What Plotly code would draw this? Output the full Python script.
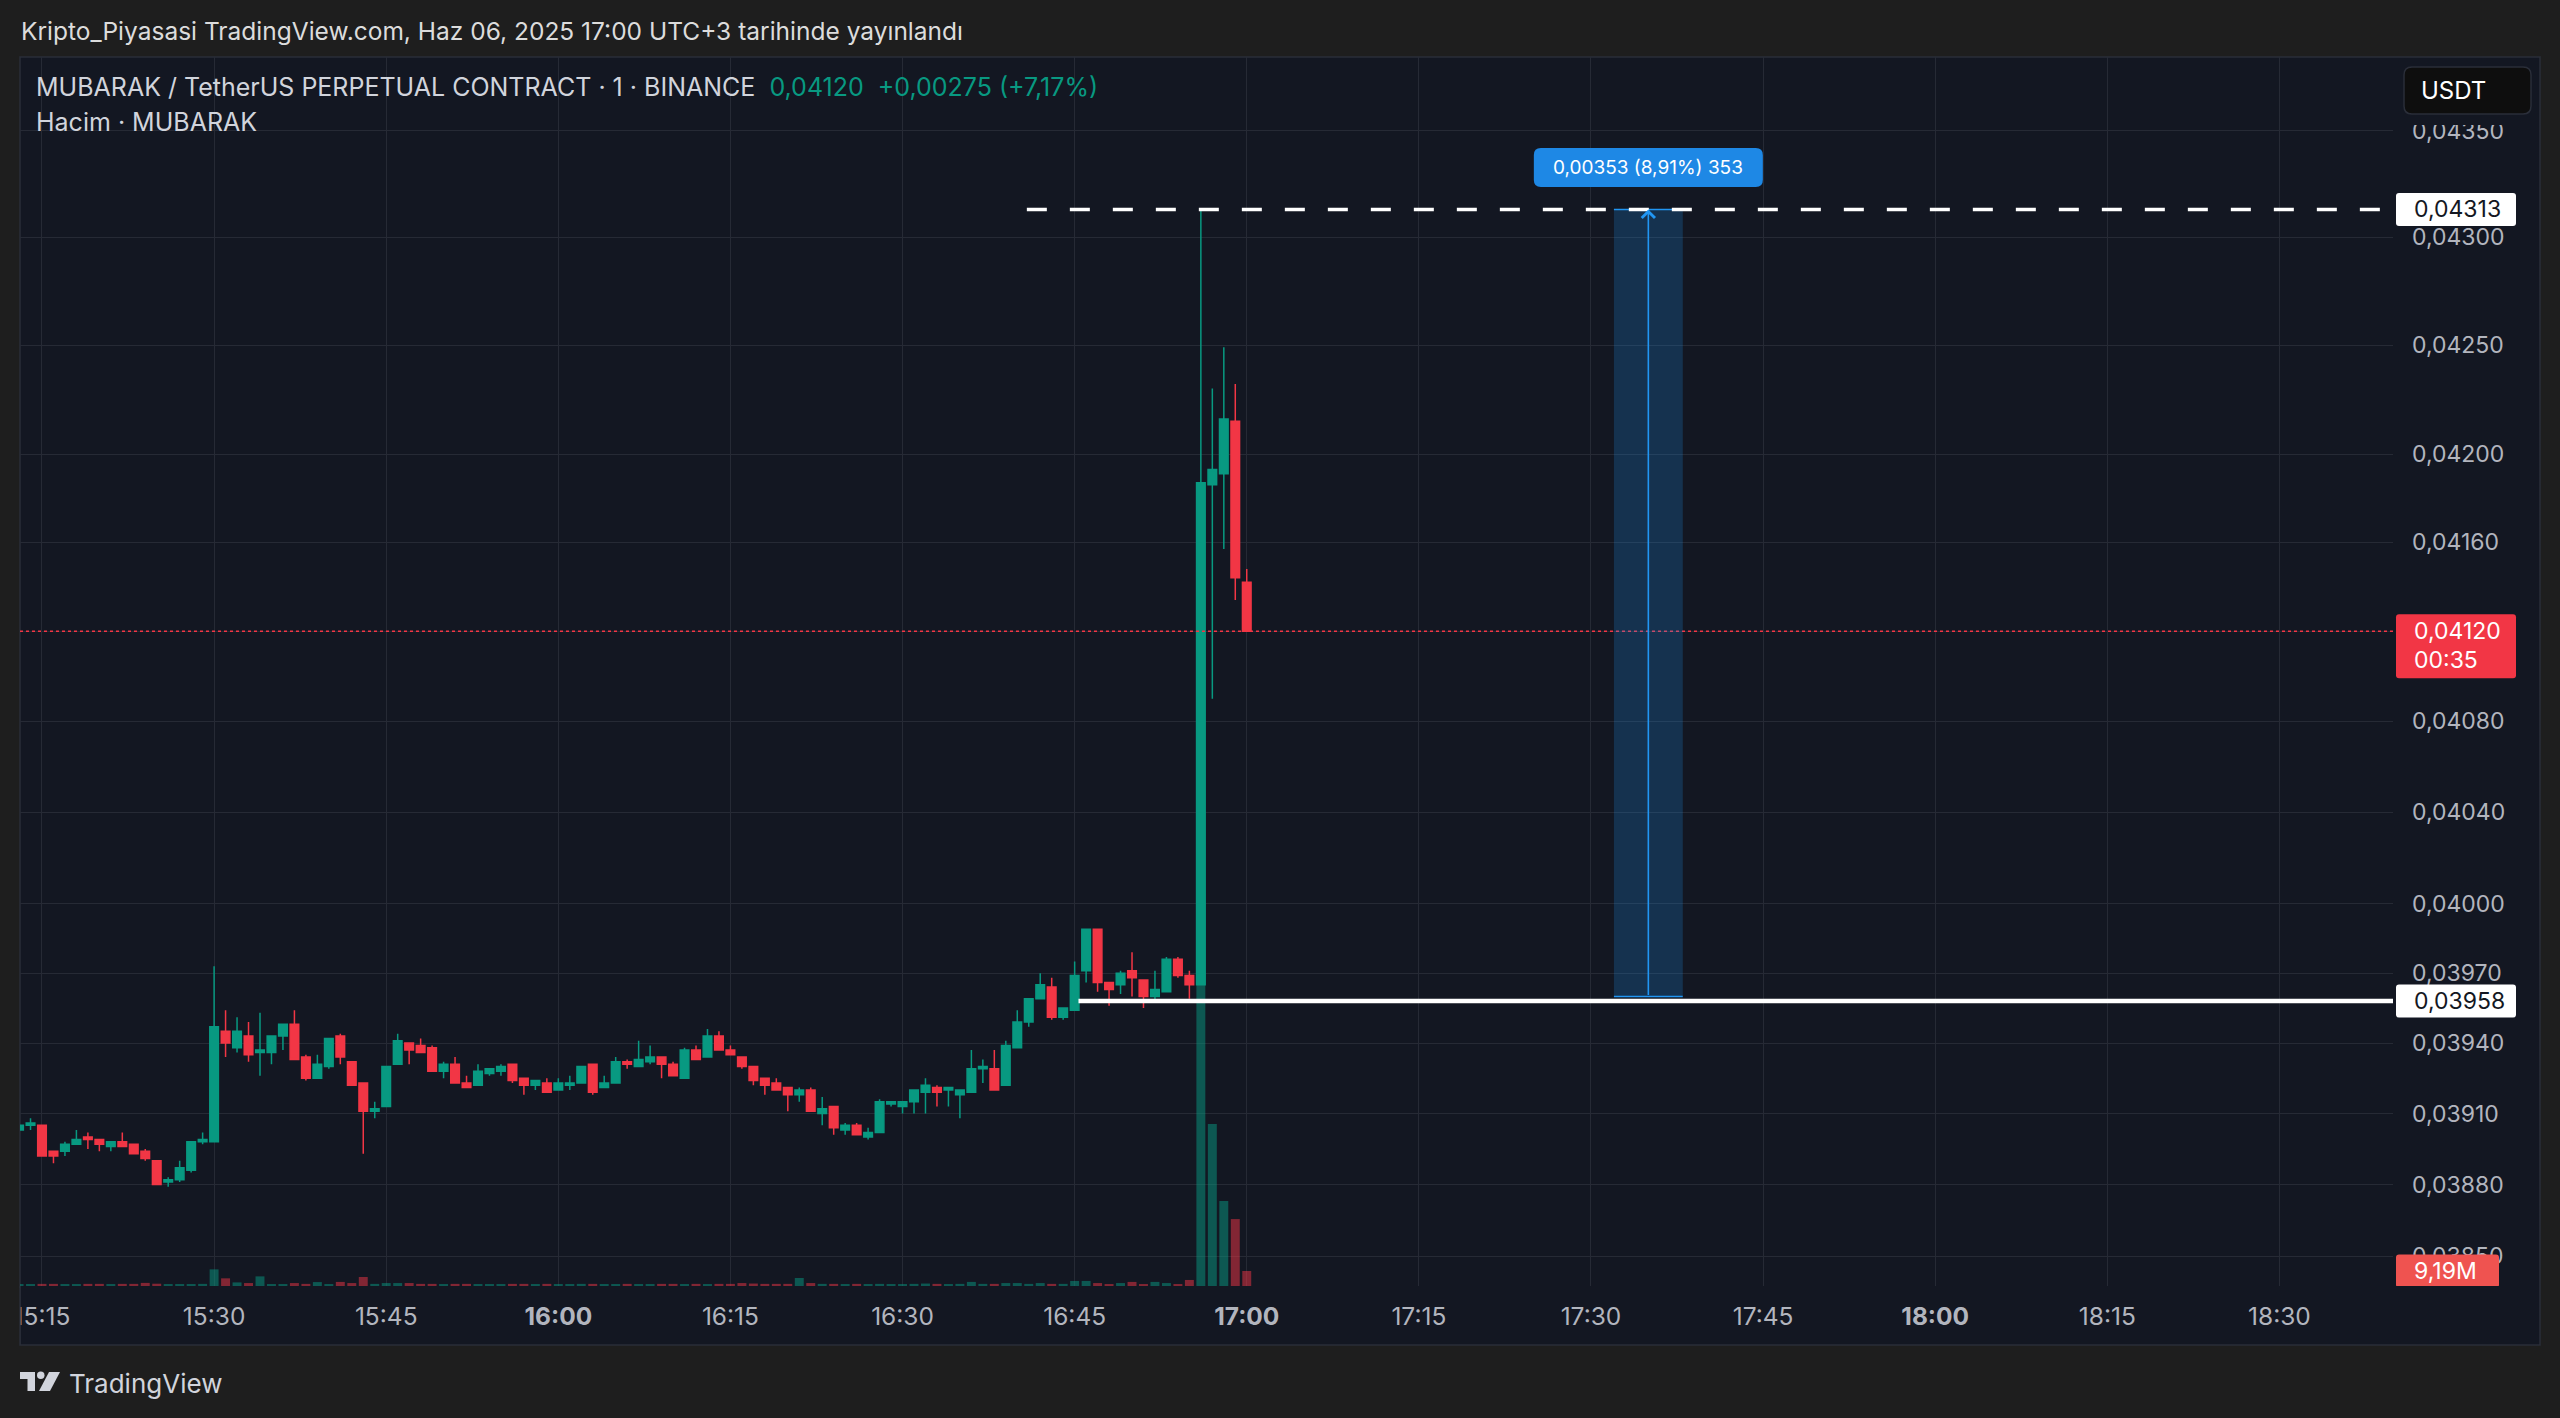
import math
import pandas as pd
import plotly.graph_objects as go

# ---------------- data (1-minute candles, MUBARAK/USDT perpetual) ----------------
START = "2025-06-06 15:13"

open_ = [0.03903, 0.03905, 0.03905, 0.03894, 0.03894, 0.03897, 0.03900,
         0.03899, 0.03896, 0.03898, 0.03897, 0.03894, 0.03890, 0.03881, 0.03882, 0.03886, 0.03898,
         0.03898, 0.03945, 0.03938, 0.03943, 0.03936, 0.03936, 0.03943, 0.03948, 0.03934, 0.03925,
         0.03930, 0.03943, 0.03932, 0.03923, 0.03911, 0.03913, 0.03931, 0.03940, 0.03939, 0.03938,
         0.03928, 0.03931, 0.03923, 0.03922, 0.03927, 0.03928, 0.03931, 0.03925, 0.03922, 0.03923,
         0.03920, 0.03922, 0.03923, 0.03931, 0.03921, 0.03923, 0.03932, 0.03930, 0.03932, 0.03934,
         0.03931, 0.03925, 0.03937, 0.03934, 0.03943, 0.03937, 0.03934, 0.03930, 0.03925, 0.03923,
         0.03921, 0.03918, 0.03920, 0.03910, 0.03913, 0.03903, 0.03905, 0.03900, 0.03902, 0.03914,
         0.03913, 0.03915, 0.03919, 0.03921, 0.03920, 0.03918, 0.03919, 0.03929, 0.03929, 0.03922,
         0.03938, 0.03949, 0.03959, 0.03964, 0.03951, 0.03954, 0.03971, 0.03989, 0.03966, 0.03965,
         0.03971, 0.03967, 0.03960, 0.03962, 0.03976, 0.03969, 0.03965, 0.04186, 0.04191, 0.04215,
         0.04142]
high = [0.03907, 0.03908, 0.03905, 0.03894, 0.03898, 0.03903, 0.03902,
        0.03899, 0.03898, 0.03902, 0.03897, 0.03895, 0.03890, 0.03883, 0.03890, 0.03898, 0.03902,
        0.03973, 0.03954, 0.03951, 0.03949, 0.03953, 0.03943, 0.03948, 0.03954, 0.03935, 0.03935,
        0.03942, 0.03944, 0.03932, 0.03923, 0.03915, 0.03930, 0.03944, 0.03940, 0.03942, 0.03939,
        0.03932, 0.03934, 0.03926, 0.03931, 0.03929, 0.03931, 0.03931, 0.03925, 0.03924, 0.03925,
        0.03925, 0.03926, 0.03930, 0.03931, 0.03926, 0.03934, 0.03933, 0.03941, 0.03939, 0.03934,
        0.03932, 0.03938, 0.03939, 0.03946, 0.03945, 0.03939, 0.03934, 0.03930, 0.03925, 0.03925,
        0.03921, 0.03921, 0.03921, 0.03917, 0.03913, 0.03906, 0.03906, 0.03904, 0.03916, 0.03915,
        0.03915, 0.03920, 0.03925, 0.03922, 0.03921, 0.03920, 0.03937, 0.03933, 0.03937, 0.03941,
        0.03954, 0.03959, 0.03970, 0.03968, 0.03955, 0.03975, 0.03989, 0.03989, 0.03966, 0.03971,
        0.03979, 0.03967, 0.03971, 0.03977, 0.03977, 0.03971, 0.04313, 0.04230, 0.04249, 0.04232,
        0.04148]
low = [0.03902, 0.03903, 0.03892, 0.03889, 0.03892, 0.03897, 0.03895,
       0.03894, 0.03894, 0.03896, 0.03893, 0.03890, 0.03880, 0.03879, 0.03881, 0.03885, 0.03897,
       0.03898, 0.03934, 0.03936, 0.03932, 0.03926, 0.03931, 0.03937, 0.03933, 0.03924, 0.03925,
       0.03929, 0.03931, 0.03922, 0.03893, 0.03908, 0.03913, 0.03931, 0.03931, 0.03936, 0.03928,
       0.03925, 0.03923, 0.03921, 0.03922, 0.03926, 0.03926, 0.03923, 0.03918, 0.03920, 0.03919,
       0.03920, 0.03920, 0.03923, 0.03918, 0.03921, 0.03923, 0.03929, 0.03930, 0.03931, 0.03925,
       0.03926, 0.03925, 0.03933, 0.03934, 0.03937, 0.03935, 0.03929, 0.03922, 0.03918, 0.03920,
       0.03911, 0.03915, 0.03911, 0.03905, 0.03901, 0.03901, 0.03901, 0.03899, 0.03902, 0.03913,
       0.03910, 0.03910, 0.03910, 0.03913, 0.03913, 0.03908, 0.03919, 0.03923, 0.03920, 0.03922,
       0.03938, 0.03947, 0.03959, 0.03950, 0.03950, 0.03954, 0.03966, 0.03962, 0.03956, 0.03961,
       0.03960, 0.03955, 0.03958, 0.03962, 0.03968, 0.03959, 0.03965, 0.04090, 0.04157, 0.04134,
       0.04120]
close = [0.03905, 0.03906, 0.03892, 0.03892, 0.03897, 0.03899, 0.03899,
         0.03897, 0.03898, 0.03896, 0.03893, 0.03891, 0.03880, 0.03882, 0.03887, 0.03898, 0.03899,
         0.03947, 0.03940, 0.03945, 0.03935, 0.03937, 0.03943, 0.03948, 0.03933, 0.03925, 0.03931,
         0.03942, 0.03934, 0.03922, 0.03911, 0.03912, 0.03930, 0.03941, 0.03937, 0.03936, 0.03928,
         0.03931, 0.03923, 0.03921, 0.03928, 0.03929, 0.03930, 0.03924, 0.03922, 0.03924, 0.03919,
         0.03923, 0.03923, 0.03930, 0.03919, 0.03923, 0.03932, 0.03931, 0.03933, 0.03934, 0.03931,
         0.03926, 0.03937, 0.03933, 0.03943, 0.03937, 0.03935, 0.03930, 0.03924, 0.03922, 0.03920,
         0.03918, 0.03920, 0.03911, 0.03912, 0.03904, 0.03905, 0.03901, 0.03902, 0.03915, 0.03915,
         0.03915, 0.03920, 0.03922, 0.03919, 0.03921, 0.03920, 0.03929, 0.03930, 0.03920, 0.03939,
         0.03949, 0.03959, 0.03965, 0.03951, 0.03955, 0.03969, 0.03989, 0.03966, 0.03963, 0.03970,
         0.03968, 0.03960, 0.03963, 0.03976, 0.03969, 0.03965, 0.04187, 0.04193, 0.04216, 0.04144,
         0.04120]
volume_m = [1.2, 1.2, 1.3, 1.3, 1.2, 1.2, 1.3,
            1.3, 1.2, 1.3, 1.3, 1.9, 1.4, 1.2, 1.2, 1.2, 1.3,
            10.2, 4.7, 2.2, 1.8, 5.9, 1.2, 1.2, 1.8, 1.3, 2.4,
            1.2, 2.5, 1.8, 5.5, 1.3, 1.8, 1.8, 1.8, 1.3, 1.3,
            1.2, 1.3, 1.3, 1.2, 1.2, 1.2, 1.3, 1.3, 1.2, 1.3,
            1.2, 1.2, 1.3, 1.3, 1.2, 1.2, 1.3, 1.2, 1.2, 1.3,
            1.3, 1.2, 1.3, 1.2, 1.3, 1.3, 1.8, 1.5, 1.3, 1.3,
            1.3, 4.9, 1.8, 1.3, 1.3, 1.2, 1.3, 1.2, 1.3, 1.2,
            1.2, 1.3, 1.5, 1.3, 1.2, 1.3, 2.5, 1.3, 1.3, 1.8,
            1.8, 1.3, 1.8, 1.3, 1.3, 3.1, 3.1, 1.8, 1.2, 1.8,
            2.5, 1.2, 2.5, 1.8, 1.2, 3.7, 240.0, 99.3, 52.1, 41.0,
            9.19]

price_ticks = [0.0385, 0.0388, 0.0391, 0.0394, 0.0397, 0.0400, 0.0404, 0.0408,
               0.0412, 0.0416, 0.0420, 0.0425, 0.0430, 0.0435]
time_tick_labels = ["15:15", "15:30", "15:45", "16:00", "16:15", "16:30", "16:45",
                    "17:00", "17:15", "17:30", "17:45", "18:00", "18:15", "18:30"]
DAY = "2025-06-06"
X_RANGE = ["2025-06-06 15:13:05", "2025-06-06 18:39:54"]
PRICE_RANGE = [0.038375, 0.043849]
VOLUME_MAX = 753.0

# drawings
hi_level = 0.04313
hi_start = "2025-06-06 16:40:50"
support_level = 0.03958
support_start = "2025-06-06 16:45:20"
last_price = 0.04120
countdown = "00:35"
measure_start, measure_end, measure_mid = "2025-06-06 17:32", "2025-06-06 17:38", "2025-06-06 17:35"
measure_low, measure_high = 0.03960, 0.04313

header = "Kripto_Piyasasi TradingView.com, Haz 06, 2025 17:00 UTC+3 tarihinde yayınlandı"
symbol_text = "MUBARAK / TetherUS PERPETUAL CONTRACT · 1 · BINANCE"
change_text = "+0,00275 (+7,17%)"
volume_text = "Hacim · MUBARAK"

# ---------------- styling ----------------
W, H = 2560, 1418
PL, PR, PT, PB = 20, 2393, 57, 1286
OUTER = "#1e1e1e"
PANE = "#131722"
GRID = "#262a35"
UP, DN = "#089981", "#F23645"
AX = "#b2b5be"
TXT = "#d1d4dc"
FONT = "Inter"


def fx(px):
    return (px - PL) / (PR - PL)


def fy(py):
    return (PB - py) / (PB - PT)


def fmt(v, d=5):
    return f"{v:.{d}f}".replace(".", ",")


def rrect(x0, y0, x1, y1, r):
    return (f"M{x0 + r},{y0} L{x1 - r},{y0} Q{x1},{y0} {x1},{y0 + r} L{x1},{y1 - r} "
            f"Q{x1},{y1} {x1 - r},{y1} L{x0 + r},{y1} Q{x0},{y1} {x0},{y1 - r} "
            f"L{x0},{y0 + r} Q{x0},{y0} {x0 + r},{y0} Z")


times = pd.date_range(START, periods=len(open_), freq="min")
vol_colors = ["rgba(8,153,129,0.5)" if c >= o else "rgba(242,54,69,0.5)"
              for o, c in zip(open_, close)]

fig = go.Figure()
fig.add_trace(go.Bar(x=times, y=volume_m, marker=dict(color=vol_colors, line=dict(width=0)),
                     yaxis="y", hoverinfo="skip", showlegend=False))
fig.add_trace(go.Candlestick(
    x=times, open=open_, high=high, low=low, close=close, yaxis="y2",
    increasing=dict(line=dict(color=UP, width=1.5), fillcolor=UP),
    decreasing=dict(line=dict(color=DN, width=1.5), fillcolor=DN),
    whiskerwidth=0, showlegend=False, hoverinfo="skip"))

shapes = []
# pane background
shapes.append(dict(type="rect", xref="paper", yref="paper", x0=fx(20), x1=fx(2540),
                   y0=fy(1345), y1=fy(57), fillcolor=PANE, line=dict(color="#2a2e39", width=1.5),
                   layer="below"))
# current price dotted line
shapes.append(dict(type="line", xref="paper", x0=0, x1=1, yref="y2", y0=last_price, y1=last_price,
                   line=dict(color=DN, width=1.5, dash="dot"), layer="above"))
# measurement box
shapes.append(dict(type="rect", xref="x", yref="y2", x0=measure_start, x1=measure_end,
                   y0=measure_low, y1=measure_high, fillcolor="rgba(33,150,243,0.22)",
                   line=dict(width=0), layer="above"))
for lvl in (measure_low, measure_high):
    shapes.append(dict(type="line", xref="x", yref="y2", x0=measure_start, x1=measure_end,
                       y0=lvl, y1=lvl, line=dict(color="#2196f3", width=1.5), layer="above"))
# horizontal drawings
shapes.append(dict(type="line", xref="x", yref="y2", x0=hi_start, x1=X_RANGE[1], y0=hi_level,
                   y1=hi_level, line=dict(color="#ffffff", width=3.5, dash="20px,23px"),
                   layer="above"))
shapes.append(dict(type="line", xref="x", yref="y2", x0=support_start, x1=X_RANGE[1],
                   y0=support_level, y1=support_level, line=dict(color="#ffffff", width=4.5),
                   layer="above"))
# measurement label box
shapes.append(dict(type="path", xref="x", yref="y2", xsizemode="pixel", ysizemode="pixel",
                   xanchor=measure_mid, yanchor=measure_high,
                   path=rrect(-114.5, 22.5, 114.5, 61.5, 7), fillcolor="#1e88e5",
                   line=dict(width=0), layer="above"))
# right-axis price labels
for lvl in (hi_level, support_level):
    shapes.append(dict(type="path", xref="paper", yref="y2", xsizemode="pixel", ysizemode="pixel",
                       xanchor=fx(2396), yanchor=lvl, path=rrect(0, -16.5, 120, 16.5, 3),
                       fillcolor="#ffffff", line=dict(width=0), layer="above"))
shapes.append(dict(type="path", xref="paper", yref="y2", xsizemode="pixel", ysizemode="pixel",
                   xanchor=fx(2396), yanchor=last_price, path=rrect(0, -47, 120, 17, 3),
                   fillcolor=DN, line=dict(width=0), layer="above"))
shapes.append(dict(type="path", xref="paper", yref="y", xsizemode="pixel", ysizemode="pixel",
                   xanchor=fx(2396), yanchor=volume_m[-1], path=rrect(0, -16.5, 103, 16.5, 3),
                   fillcolor="#ef5350", line=dict(width=0), layer="above"))
# USDT button (covers top of the scale)
shapes.append(dict(type="rect", xref="paper", yref="paper", x0=fx(2394), x1=fx(2539),
                   y0=fy(125), y1=fy(58), fillcolor=PANE, line=dict(width=0), layer="above"))
shapes.append(dict(type="path", xref="paper", yref="paper", xsizemode="pixel", ysizemode="pixel",
                   xanchor=fx(2467.5), yanchor=fy(90.5), path=rrect(-63.5, -23.5, 63.5, 23.5, 8),
                   fillcolor="#0e0e0e", line=dict(color="#2a2e39", width=1.5), layer="above"))
# clip time labels at pane edge
shapes.append(dict(type="rect", xref="paper", yref="paper", x0=fx(0), x1=fx(20),
                   y0=fy(1345), y1=fy(1288), fillcolor=OUTER, line=dict(width=0), layer="above"))
shapes.append(dict(type="line", xref="paper", yref="paper", x0=fx(20), x1=fx(20),
                   y0=fy(1345), y1=fy(1286), line=dict(color="#2a2e39", width=1.5),
                   layer="above"))
# TradingView logo
for p in ("M0,10 L15,10 L15,-9 L7.5,-9 L7.5,3 L0,3 Z", "M29,10 L40,10 L30,-9 L19,-9 Z"):
    shapes.append(dict(type="path", xref="paper", yref="paper", xsizemode="pixel",
                       ysizemode="pixel", xanchor=fx(20), yanchor=fy(1382), path=p,
                       fillcolor=TXT, line=dict(width=0), layer="above"))
shapes.append(dict(type="circle", xref="paper", yref="paper", xsizemode="pixel", ysizemode="pixel",
                   xanchor=fx(20), yanchor=fy(1382), x0=17, x1=24.5, y0=3, y1=10.5,
                   fillcolor=TXT, line=dict(width=0), layer="above"))

L10 = math.log10
ann = []


def label(text, x, y, size, color, xanchor="left", yanchor="middle", xref="paper", yref="paper",
          **kw):
    ann.append(dict(text=text, x=x, y=y, xref=xref, yref=yref, xanchor=xanchor, yanchor=yanchor,
                    showarrow=False, font=dict(family=FONT, size=size, color=color), **kw))


label(header, fx(19), fy(31), 24.5, "#dcdcdc")
label(f"{symbol_text}\u00a0\u00a0<span style='color:{UP}'>{fmt(close[-1])}\u00a0\u00a0{change_text}</span>",
      fx(34), fy(87), 25, TXT)
label(volume_text, fx(34), fy(122), 25, TXT)
label("TradingView", fx(67), fy(1383), 26, TXT)
label("USDT", fx(2419), fy(90.5), 24, "#ffffff")
label(fmt(hi_level), fx(2412), L10(hi_level), 23, "#131722", yref="y2")
label(fmt(support_level), fx(2412), L10(support_level), 23, "#131722", yref="y2")
label(fmt(last_price), fx(2412), L10(last_price), 23, "#ffffff", yref="y2")
label(countdown, fx(2412), L10(last_price), 23, "#ffffff", yref="y2", yshift=-29)
label(fmt(volume_m[-1], 2) + "M", fx(2412), volume_m[-1], 23, "#ffffff", yref="y")
diff = measure_high - measure_low
label(f"{fmt(diff)} ({fmt(diff / measure_low * 100, 2)}%) {round(diff / 0.00001)}",
      measure_mid, L10(measure_high), 19, "#ffffff", xanchor="center", xref="x", yref="y2",
      yshift=42)
ann.append(dict(x=measure_mid, y=L10(measure_high), xref="x", yref="y2", ax=measure_mid,
                ay=L10(measure_low), axref="x", ayref="y2", text="", showarrow=True,
                arrowhead=4, arrowsize=1.6, arrowwidth=1.6, arrowcolor="#2196f3"))

fig.update_layout(
    width=W, height=H, autosize=False,
    margin=dict(l=PL, r=W - PR, t=PT, b=H - PB, pad=0),
    paper_bgcolor=OUTER, plot_bgcolor=PANE,
    font=dict(family=FONT, color=AX),
    showlegend=False, hovermode=False,
    bargap=0.22, boxgap=0.25, boxgroupgap=0,
    xaxis=dict(type="date", range=X_RANGE, showgrid=True, gridcolor=GRID, gridwidth=1,
               tickvals=[f"{DAY} {t}" for t in time_tick_labels],
               ticktext=[f"<b>{t}</b>" if t.endswith(":00") else t for t in time_tick_labels],
               tickfont=dict(family=FONT, size=24.5, color=AX), ticks="", showline=False,
               zeroline=False, ticklabelstandoff=13, rangeslider=dict(visible=False)),
    yaxis=dict(range=[0, VOLUME_MAX], visible=False, fixedrange=True),
    yaxis2=dict(type="log", range=[L10(PRICE_RANGE[0]), L10(PRICE_RANGE[1])], overlaying="y",
                side="right", anchor="x", showgrid=True, gridcolor=GRID, gridwidth=1,
                tickvals=price_ticks, ticktext=[fmt(v) for v in price_ticks],
                tickfont=dict(family=FONT, size=23, color=AX), ticks="", showline=False,
                zeroline=False, ticklabelstandoff=18),
    shapes=shapes, annotations=ann,
)

fig.write_html("out.html", config={"displayModeBar": False},
               post_script="document.body.style.margin='0';document.body.style.overflow='hidden';")
